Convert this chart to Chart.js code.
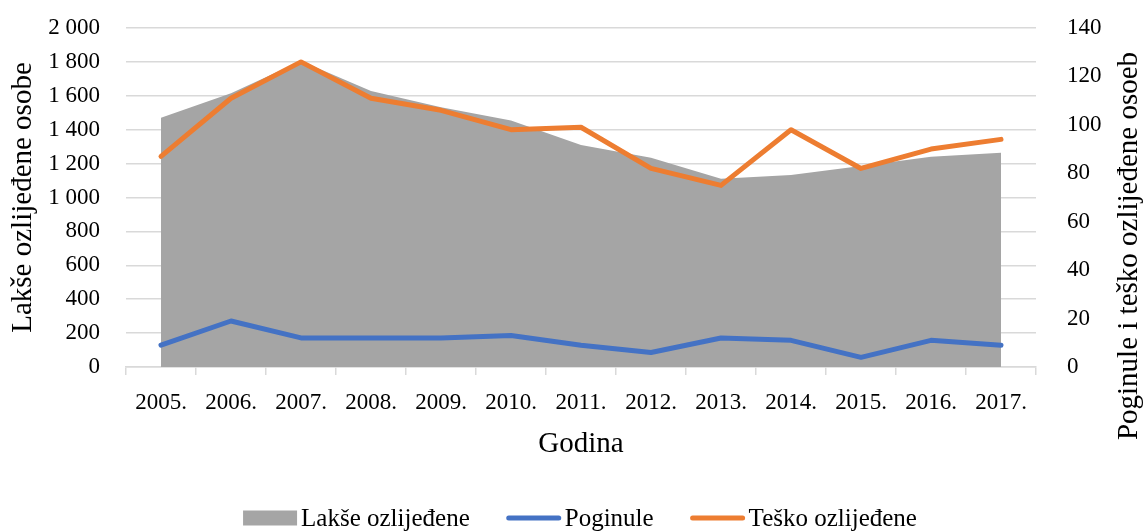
<!DOCTYPE html>
<html>
<head>
<meta charset="utf-8">
<script src="https://cdn.jsdelivr.net/npm/chart.js@4"></script>
<style>
  html, body { margin: 0; padding: 0; background: #fff; }
</style>
</head>
<body>
<canvas id="myChart" width="1145" height="532"></canvas>
<script>
// categories along the x-axis
var years = ['2005.', '2006.', '2007.', '2008.', '2009.', '2010.', '2011.', '2012.', '2013.', '2014.', '2015.', '2016.', '2017.'];
// left axis (area)
var lakse = [1470, 1615, 1805, 1628, 1532, 1455, 1310, 1235, 1110, 1133, 1186, 1241, 1264];
// right axis (lines)
var poginule = [9, 19, 12, 12, 12, 13, 9, 6, 12, 11, 4, 11, 9];
var tesko = [87, 111, 126, 111, 106, 98, 99, 82, 75, 98, 82, 90, 94];

var FONT = "'Liberation Serif', 'Times New Roman', serif";
Chart.defaults.font.family = FONT;
Chart.defaults.font.size = 23;
Chart.defaults.color = '#000';

function spaced(v) {
  return String(v).replace(/\B(?=(\d{3})+(?!\d))/g, ' ');
}

// pin axis boxes so the plot area lands where the original has it
function pinWidth(w) {
  return function(scale) {
    scale.width = w;
    scale.paddingTop = 0;
    scale.paddingBottom = 0;
  };
}

// right axis title reads bottom-to-top, plus Excel-like legend
var extras = {
  id: 'extras',
  afterDraw: function(chart) {
    var ctx = chart.ctx;
    ctx.save();
    ctx.fillStyle = '#000';
    ctx.font = '29px ' + FONT;
    ctx.textAlign = 'center';
    ctx.textBaseline = 'middle';
    ctx.translate(1129, 246);
    ctx.rotate(-Math.PI / 2);
    ctx.fillText('Poginule i teško ozlijeđene osoeb', 0, 0);
    ctx.restore();

    ctx.save();
    ctx.font = '25px ' + FONT;
    ctx.textBaseline = 'middle';
    ctx.textAlign = 'left';
    var ds = chart.data.datasets;
    var symW = 54, gap = 4, itemGap = 37, y = 518;
    var total = 0;
    ds.forEach(function(d, i) {
      total += symW + gap + ctx.measureText(d.label).width + (i < ds.length - 1 ? itemGap : 0);
    });
    var x = 580 - total / 2;
    ds.forEach(function(d) {
      if (d.fill) {
        ctx.fillStyle = d.backgroundColor;
        ctx.fillRect(x, y - 7.5, symW, 15);
      } else {
        ctx.strokeStyle = d.borderColor;
        ctx.lineWidth = 5;
        ctx.lineCap = 'round';
        ctx.beginPath();
        ctx.moveTo(x + 2, y);
        ctx.lineTo(x + symW - 2, y);
        ctx.stroke();
      }
      ctx.fillStyle = '#000';
      ctx.fillText(d.label, x + symW + gap, y + 1);
      x += symW + gap + ctx.measureText(d.label).width + itemGap;
    });
    ctx.restore();
  }
};

var ctx = document.getElementById('myChart');
var myChart = new Chart(ctx, {
  type: 'line',
  data: {
    labels: years,
    datasets: [
      {
        label: 'Lakše ozlijeđene',
        data: lakse,
        yAxisID: 'y',
        fill: 'origin',
        backgroundColor: '#a5a5a5',
        borderColor: '#a5a5a5',
        borderWidth: 0,
        pointRadius: 0,
        order: 3
      },
      {
        label: 'Poginule',
        data: poginule,
        yAxisID: 'y1',
        fill: false,
        borderColor: '#4472c4',
        borderWidth: 5,
        borderCapStyle: 'round',
        borderJoinStyle: 'round',
        pointRadius: 0,
        order: 2
      },
      {
        label: 'Teško ozlijeđene',
        data: tesko,
        yAxisID: 'y1',
        fill: false,
        borderColor: '#ed7d31',
        borderWidth: 5,
        borderCapStyle: 'round',
        borderJoinStyle: 'round',
        pointRadius: 0,
        order: 1
      }
    ]
  },
  options: {
    responsive: false,
    animation: false,
    layout: { autoPadding: false, padding: { top: 28, left: 0, right: 43, bottom: 44 } },
    plugins: {
      legend: { display: false },
      tooltip: { enabled: false }
    },
    scales: {
      x: {
        offset: true,
        grid: { offset: true, drawOnChartArea: false, tickLength: 8, color: '#d9d9d9', lineWidth: 1.5 },
        border: { color: '#d9d9d9', width: 1.5 },
        ticks: { padding: 14, maxRotation: 0, autoSkip: false },
        title: { display: true, text: 'Godina', font: { size: 29 }, padding: { top: 0, bottom: 26 } },
        afterFit: function(scale) {
          scale.height = 121;
          scale.paddingLeft = 0;
          scale.paddingRight = 0;
        }
      },
      y: {
        position: 'left',
        min: 0,
        max: 2000,
        ticks: { stepSize: 200, padding: 26, autoSkip: false, callback: function(v) { return spaced(v); } },
        grid: { color: '#d9d9d9', lineWidth: 1.5, drawTicks: false },
        border: { display: false },
        title: { display: true, text: 'Lakše ozlijeđene osobe', font: { size: 29 }, padding: { top: 6, bottom: 4 } },
        afterFit: pinWidth(126)
      },
      y1: {
        position: 'right',
        min: 0,
        max: 140,
        ticks: { stepSize: 20, padding: 31, autoSkip: false },
        grid: { drawOnChartArea: false, drawTicks: false },
        border: { display: false },
        afterFit: pinWidth(66)
      }
    }
  },
  plugins: [extras]
});
</script>
</body>
</html>
